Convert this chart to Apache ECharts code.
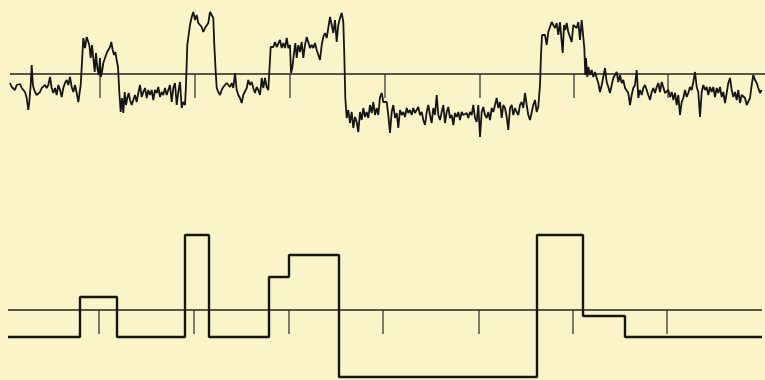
<!DOCTYPE html>
<html>
<head>
<meta charset="utf-8">
<script src="https://cdn.jsdelivr.net/npm/echarts@6/dist/echarts.min.js"></script>
<style>
html,body{margin:0;padding:0;background:#f9f5c9;}
#c{width:765px;height:380px;}
</style>
</head>
<body>
<div id="c"></div>
<script>
// Noisy measured signal: [x, amplitude relative to baseline]
var signalPoints = [
[10,-9],[11.7,-13],[13.3,-11],[15,-16],[16.7,-11],[18.3,-13],[20,-10],[21.7,-14],[23.3,-13],[25,-18],[26.7,-24],[28.3,-36],[29.3,-28],[30.7,-11],[31.7,9],[32.7,-8],[33.3,-13],[35,-18],[36.7,-21],[38.3,-23],[40,-18],[41.7,-14],[43.3,-13],[45,-11],[46.7,-14],[48.3,-11],[50,-3],[51.7,-14],[53.3,-19],[55,-14],[56.7,-21],[58.3,-11],[60,-16],[61.7,-23],[63.3,-14],[65,-9],[66.7,-6],[68.3,-11],[70,-3],[71.7,-13],[73.3,-18],[75,-11],[76.7,-19],[78.3,-28],[79.3,-29],[80.7,-11],[82,12],[83.3,36],[85,26],[86.7,37],[88,39],[89.3,29],[90.7,16],[92,29],[93.3,16],[94.7,2],[96,21],[97.3,6],[98.7,-1],[100,16],[100.7,-3],[102,2],[103.3,11],[105,16],[106.7,21],[108.3,24],[110,27],[111.3,32],[112.7,24],[114,19],[115.3,22],[116.7,14],[118,7],[119.3,-18],[120.7,-38],[122,-24],[123.3,-39],[124.7,-18],[126,-31],[127.3,-24],[128.7,-19],[130,-26],[131.7,-31],[133.3,-26],[135,-21],[136.7,-28],[138.3,-19],[140,-11],[141.7,-23],[143.3,-18],[145,-14],[146.7,-24],[148.3,-16],[150,-21],[151.7,-16],[153.3,-26],[155,-16],[156.7,-19],[158.3,-13],[160,-23],[161.7,-18],[163.3,-21],[165,-14],[166.7,-21],[168.3,-16],[170,-11],[171.7,-28],[173.3,-14],[175,-9],[176.7,-31],[178.3,-18],[180,-8],[181.7,-34],[183.3,-28],[185,-31],[186,-11],[187.3,29],
[190,49],[191.7,57],[193.3,62],[195,54],[196.7,59],[198.3,51],[200,52],[201.7,47],[203.3,42],[205,46],[206.7,44],[208.3,51],[210,62],[211.7,64],[213.3,56],[214.3,29],[215.7,2],[216.7,-14],[218.3,-18],[220,-21],[221.7,-16],[223.3,-13],[225,-14],[226.7,-9],[228.3,-11],[230,-13],[231.7,-9],[233.3,-14],[235,1],[236.7,-16],[238.3,-21],[240,-24],[241.7,-29],[243.3,-21],[245,-23],[246.7,-14],[248.3,-6],[250,-11],[251.7,-8],[253.3,-14],[255,-19],[256.7,-13],[258.3,-16],[260,-21],[261.7,-4],[263.3,-14],[265,-4],[266.7,-13],[268.3,-16],[269.3,2],[270.7,27],[272,29],[273.3,27],[275,32],[276.7,27],[278.3,29],[280,34],[281.7,26],[283.3,31],[285,26],[286.7,36],[288.3,26],[290,29],[291,1],[292.3,6],[294,21],[295.3,31],[296.7,16],[298.3,29],[300,22],[301.7,32],[303.3,16],[305,29],[306.7,37],[308.3,32],[310,26],[311.7,29],[313.3,26],[315,31],[316.7,24],[318.3,22],[320,14],[321.7,29],[323.3,37],[325,41],[326.7,36],[328.3,46],[330,57],[331.7,49],[333.3,41],[335,54],[336.7,32],[338.3,49],[340,56],[341.7,61],[343.3,52],[344.3,19],[345.3,-24],[346.7,-44],[348.3,-36],[350,-49],[351.7,-38],[353.3,-54],[355,-43],[356.7,-48],[358.3,-58],[360,-38],[361.7,-46],[363.3,-34],[365,-43],[366.7,-38],[368.3,-44],[370,-31],[371.7,-39],[373.3,-28],[375,-41],[376.7,-34],[378.3,-41],
[380,-23],[381.7,-19],[383.3,-28],[385,-26],[386.7,-28],[388.3,-41],[390,-59],[391.7,-38],[393.3,-31],[395,-44],[396.7,-39],[398.3,-54],[400,-36],[401.7,-41],[403.3,-38],[405,-43],[406.7,-34],[408.3,-39],[410,-36],[411.7,-41],[413.3,-34],[415,-39],[416.7,-38],[418.3,-33],[420,-41],[421.7,-38],[423.3,-46],[425,-51],[426.7,-38],[428.3,-31],[430,-41],[431.7,-49],[433.3,-34],[435,-41],[436.7,-21],[438.3,-41],[440,-46],[441.7,-38],[443.3,-31],[445,-49],[446.7,-38],[448.3,-33],[450,-44],[451.7,-41],[453.3,-51],[455,-39],[456.7,-43],[458.3,-38],[460,-46],[461.7,-38],[463.3,-41],[465,-43],[466.7,-39],[468.3,-44],[470,-38],[471.7,-41],[473.3,-31],[475,-44],[476.7,-48],[478.3,-31],[480,-63],[481.7,-38],[483.3,-33],[485,-41],[486.7,-44],[488.3,-38],[490,-46],[491.7,-34],[493.3,-38],[495,-31],[496.7,-24],[498.3,-34],[500,-28],[501.7,-44],[503.3,-31],[505,-34],[506.7,-43],[508.3,-56],[510,-34],[511.7,-31],[513.3,-41],[515,-34],[516.7,-38],[518.3,-41],[520,-31],[521.7,-28],[523.3,-34],[525,-19],[526.7,-31],[528.3,-41],[530,-46],[531.7,-48],[533.3,-31],[535,-26],[536.7,-38],[538.3,-33],[540,-11],[541,19],[542,39],[543.3,41],[545,39],[546.7,29],[548.3,42],[550,47],[551.7,52],[553.3,49],[555,46],[556.7,51],[558.3,39],[560,52],[561.7,32],[562.7,21],[564,49],[565.3,44],[566.7,51],[568.3,42],
[570,41],[571.7,32],[573.3,49],[575,51],[576.7,46],[578.3,52],[580,34],[581.7,54],[583.3,56],[584.3,26],[585.3,-1],[586,16],[587.3,-3],[588.3,7],[590,-1],[591.7,4],[593.3,-3],[595,2],[596.7,-4],[598.3,-9],[600,-18],[601.7,-11],[603.3,-3],[605,6],[606.7,-8],[608.3,-13],[610,-19],[611.7,-11],[613.3,-4],[615,-6],[616.7,2],[618.3,-8],[620,-1],[621.7,-9],[623.3,-6],[625,-14],[626.7,-13],[628.3,-19],[630,-31],[631.7,-21],[633.3,-14],[635,-11],[636.7,4],[638.3,-24],[640,-16],[641.7,-21],[643.3,-14],[645,-11],[646.7,-16],[648.3,-21],[650,-26],[651.7,-18],[653.3,-14],[655,-19],[656.7,-13],[658.3,-9],[660,-18],[661.7,-8],[663.3,-13],[665,-19],[666.7,-21],[668.3,-16],[670,-23],[671.7,-18],[673.3,-26],[675,-19],[676.7,-31],[678.3,-21],[680,-41],[681.7,-28],[683.3,-24],[685,-16],[686.7,-23],[688.3,-19],[690,-13],[691.7,-16],[693.3,-8],[695,2],[696.7,-13],[698.3,-18],[700,-43],[701.7,-18],[703.3,-11],[705,-16],[706.7,-13],[708.3,-21],[710,-13],[711.7,-18],[713.3,-13],[715,-23],[716.7,-14],[718.3,-19],[720,-13],[721.7,-23],[723.3,-18],[725,-29],[726.7,-19],[728.3,-9],[730,-4],[731.7,-16],[733.3,-23],[735,-18],[736.7,-26],[738.3,-16],[740,-29],[741.7,-21],[743.3,-19],[745,-24],[746.7,-31],[748.3,-33],[750,-24],[751.7,-11],[753.3,-1],[755,-6],[756.7,-9],[758.3,-14],[760,-19],[761.7,-16]
];

// Step approximation: segment edges and levels
var stepEdges  = [8, 80, 117, 185, 209, 269, 289, 339, 537, 583, 625, 762];
var stepLevels = [-27, 13, -27, 75, -27, 33, 55, -67, 75, -6, -27];

// Baselines and tick marks
var topBaseline = [10, 765];
var bottomBaseline = [8, 762];
var topTicks = [100, 195, 290, 385, 480, 574, 668];
var bottomTicks = [99, 194, 289, 383, 479, 573, 667];
var tickLength = 24;

var stepData = stepLevels.map(function (v, i) { return [stepEdges[i], v]; });
stepData.push([stepEdges[stepEdges.length - 1], stepLevels[stepLevels.length - 1]]);

var ink = '#151515';
var series = [];
series.push({
  type: 'line', xAxisIndex: 0, yAxisIndex: 0, data: signalPoints,
  showSymbol: false, lineStyle: { color: ink, width: 1.8 }, z: 3
});
series.push({
  type: 'line', xAxisIndex: 0, yAxisIndex: 0,
  data: [[topBaseline[0], 0], [topBaseline[1], 0]],
  showSymbol: false, lineStyle: { color: '#222', width: 1.3 }, z: 2
});
topTicks.forEach(function (t) {
  series.push({
    type: 'line', xAxisIndex: 0, yAxisIndex: 0,
    data: [[t, 0], [t, -tickLength]],
    showSymbol: false, lineStyle: { color: '#2a2a2a', width: 1.2 }, z: 2
  });
});
series.push({
  type: 'line', xAxisIndex: 1, yAxisIndex: 1, data: stepData, step: 'end',
  showSymbol: false, lineStyle: { color: ink, width: 2.4 }, z: 3
});
series.push({
  type: 'line', xAxisIndex: 1, yAxisIndex: 1,
  data: [[bottomBaseline[0], 0], [bottomBaseline[1], 0]],
  showSymbol: false, lineStyle: { color: '#222', width: 1.3 }, z: 2
});
bottomTicks.forEach(function (t) {
  series.push({
    type: 'line', xAxisIndex: 1, yAxisIndex: 1,
    data: [[t, 0], [t, -tickLength]],
    showSymbol: false, lineStyle: { color: '#2a2a2a', width: 1.2 }, z: 2
  });
});

var chart = echarts.init(document.getElementById('c'));
chart.setOption({
  animation: false,
  backgroundColor: '#f9f5c9',
  grid: [
    { left: 0, right: 0, top: 0, height: 150 },
    { left: 0, right: 0, top: 200, height: 180 }
  ],
  xAxis: [
    { type: 'value', gridIndex: 0, min: 0, max: 765, show: false },
    { type: 'value', gridIndex: 1, min: 0, max: 765, show: false }
  ],
  yAxis: [
    { type: 'value', gridIndex: 0, min: -76, max: 74, show: false },
    { type: 'value', gridIndex: 1, min: -70, max: 110, show: false }
  ],
  series: series
});
</script>
</body>
</html>
